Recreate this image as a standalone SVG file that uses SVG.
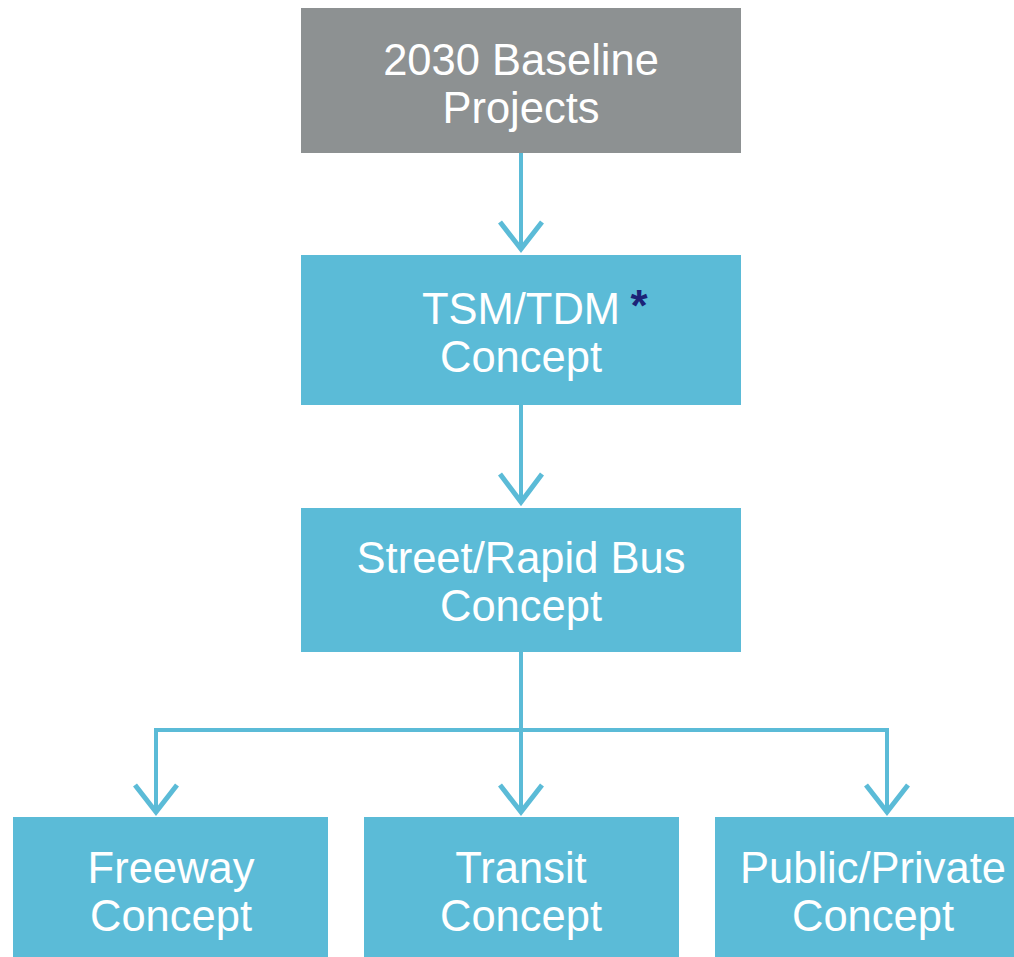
<svg xmlns="http://www.w3.org/2000/svg" width="1014" height="957" viewBox="0 0 1014 957">
<style>
.box{fill:#5bbbd7}
.gray{fill:#8d9192}
.t{font-family:"Liberation Sans",Arial,sans-serif;font-size:43.5px;fill:#ffffff;text-anchor:middle}
.c{fill:none;stroke:#5bbbd7;stroke-width:4}
.ah{fill:none;stroke:#5bbbd7;stroke-width:5;stroke-linejoin:miter}
</style>
<rect width="1014" height="957" fill="#ffffff"/>
<g id="connectors">
<path class="c" d="M521,153 V250"/>
<path class="ah" d="M500,222 L521,249 L542,222"/>
<path class="c" d="M521,405 V503"/>
<path class="ah" d="M500,474 L521,502 L542,474"/>
<path class="c" d="M521,652 V813 M156,813 V730 H887 V813"/>
<path class="ah" d="M135,785 L156,812 L177,785"/>
<path class="ah" d="M500,785 L521,812 L542,785"/>
<path class="ah" d="M866,785 L887,812 L908,785"/>
</g>
<g id="baseline">
<rect class="gray" x="301" y="8" width="440" height="145"/>
<text class="t" x="521" y="75">2030 Baseline</text>
<text class="t" x="521" y="123">Projects</text>
</g>
<g id="tsm">
<rect class="box" x="301" y="255" width="440" height="150"/>
<text class="t" x="521" y="324">TSM/TDM</text>
<text x="639" y="321" font-family="Liberation Sans,Arial,sans-serif" font-size="44" font-weight="bold" fill="#1c2377" text-anchor="middle">*</text>
<text class="t" x="521" y="372">Concept</text>
</g>
<g id="street">
<rect class="box" x="301" y="508" width="440" height="144"/>
<text class="t" x="521" y="573">Street/Rapid Bus</text>
<text class="t" x="521" y="621">Concept</text>
</g>
<g id="freeway">
<rect class="box" x="13" y="817" width="315" height="140"/>
<text class="t" x="171" y="883">Freeway</text>
<text class="t" x="171" y="931">Concept</text>
</g>
<g id="transit">
<rect class="box" x="364" y="817" width="315" height="140"/>
<text class="t" x="521" y="883">Transit</text>
<text class="t" x="521" y="931">Concept</text>
</g>
<g id="publicprivate">
<rect class="box" x="715" y="817" width="315" height="140"/>
<text class="t" x="873" y="883">Public/Private</text>
<text class="t" x="873" y="931">Concept</text>
</g>
</svg>
